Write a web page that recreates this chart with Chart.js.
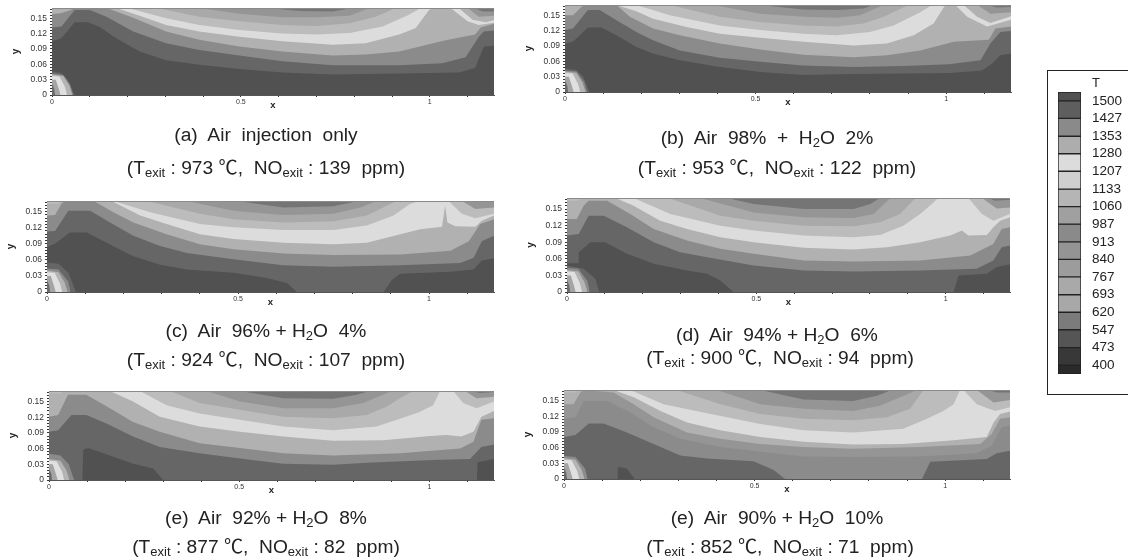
<!DOCTYPE html>
<html>
<head>
<meta charset="utf-8">
<script src="https://cdn.jsdelivr.net/npm/chart.js@4"></script>
<style>
html, body { margin: 0; padding: 0; background: #fff; }
#page { position: relative; width: 1128px; height: 560px; overflow: hidden; filter: blur(0.45px); font-family: "Liberation Sans", "Noto Sans CJK KR", sans-serif; color: #222; }
canvas { position: absolute; }
.cap { position: absolute; font-size: 19.2px; line-height: 24px; white-space: pre; transform: translate(-50%, -50%); }
.cap sub { font-size: 13px; line-height: 0; vertical-align: -3px; }
#frame { position: absolute; left: 1047px; top: 70px; width: 80px; height: 323px; border: 1px solid #222; box-sizing: content-box; }
#tname { position: absolute; left: 1092px; top: 75px; font-size: 13px; line-height: 15px; }
</style>
</head>
<body>
<div id="page">
  <div id="frame"></div>
  <div id="tname">T</div>
</div>
<script>
const xMax = 1.17, yMax = 0.17;
const xTicks = [0, 0.1, 0.2, 0.3, 0.4, 0.5, 0.6, 0.7, 0.8, 0.9, 1, 1.1];
const xLabelled = [0, 0.5, 1];
const yTicks = [0, 0.006, 0.012, 0.018, 0.024, 0.03, 0.036, 0.042, 0.048, 0.054, 0.06, 0.066, 0.072, 0.078, 0.084, 0.09, 0.096, 0.102, 0.108, 0.114, 0.12, 0.126, 0.132, 0.138, 0.144, 0.15, 0.156, 0.162, 0.168];
const yLabelled = [0, 0.03, 0.06, 0.09, 0.12, 0.15];

// legend levels
const levels = [1500, 1427, 1353, 1280, 1207, 1133, 1060, 987, 913, 840, 767, 693, 620, 547, 473, 400];
const levelTop = 1536.7, levelBottom = 363.3;
const levelTones = ['#505050', '#5e5e5e', '#8a8a8a', '#adadad', '#dcdcdc', '#cfcfcf', '#b5b5b5', '#a0a0a0', '#8a8a8a', '#949494', '#9c9c9c', '#a9a9a9', '#a8a8a8', '#7b7b7b', '#555555', '#383838', '#2a2a2a'];

const T1500 = '#515151', T1427 = '#666666', T1353 = '#8b8b8b', T1280 = '#b1b1b1', T1207 = '#dcdcdc', T1133 = '#bcbcbc', T1060 = '#a9a9a9', T987 = '#959595', T913 = '#868686', T840 = '#757575', TDark = '#444444';

// shared shapes
const baseLine = [[0, 0], [1.17, 0]];
const topEdge = [[0, 0.17], [1.17, 0.17]];
const cornerTop = [[0, 0.165], [0.03, 0.165], [0.04, 0.17]];
const core1 = [[0, 0.04], [0.03, 0.037], [0.046, 0.018], [0.054, 0]];
const core2 = [[0, 0.037], [0.02, 0.036], [0.034, 0.016], [0.04, 0]];
const core3 = [[0, 0.03], [0.01, 0.03], [0.018, 0.012], [0.023, 0]];
const core4 = [[0, 0.022], [0.006, 0.012], [0.008, 0]];

// (a) air only
const a1 = [[0, .105], [.025, .111], [.06, .142], [.095, .142], [.126, .133], [.17, .111], [.232, .085], [.302, .068], [.39, .059], [.496, .051], [.61, .044], [.743, .04], [.919, .042], [1.077, .044], [1.12, .053], [1.143, .095], [1.17, .096]];
const a2 = [[0, .132], [.025, .134], [.06, .166], [.1, .166], [.144, .153], [.215, .124], [.302, .101], [.39, .088], [.496, .077], [.61, .066], [.743, .058], [.919, .058], [1.033, .062], [1.095, .074], [1.13, .114], [1.143, .124], [1.17, .126]];
const a3 = [[0, .158], [.025, .16], [.05, .166], [.06, .17], [.144, .17], [.215, .151], [.302, .124], [.39, .108], [.496, .095], [.61, .085], [.743, .077], [.83, .079], [.919, .085], [1.042, .107], [1.12, .118], [1.135, .132], [1.17, .139]];
const a4 = [[.17, .17], [.232, .155], [.302, .137], [.39, .124], [.496, .114], [.61, .105], [.743, .098], [.83, .101], [.919, .118], [.963, .131], [.998, .166], [1.007, .17]];
const a5 = [[.2, .17], [.302, .15], [.39, .137], [.496, .127], [.61, .12], [.7, .118], [.788, .121], [.875, .134], [.945, .157], [.976, .17]];
const a6 = [[.277, .17], [.39, .153], [.496, .144], [.61, .137], [.7, .135], [.788, .14], [.857, .153], [.91, .17]];
const a7 = [[.39, .17], [.496, .159], [.61, .152], [.7, .152], [.788, .155], [.84, .17]];
const a8 = [[.57, .17], [.655, .164], [.743, .163], [.795, .17]];
const a9 = [[.6, .17], [.62, .168], [.78, .168], [.83, .17]];
const aR1 = [[1.055, .17], [1.1, .144], [1.13, .137], [1.17, .141]];
const aR2 = [[1.077, .17], [1.113, .147], [1.148, .142], [1.17, .146]];
const aR3 = [[1.1, .17], [1.13, .153], [1.17, .155]];
const aR4 = [[1.117, .17], [1.14, .163], [1.17, .163]];
const aHot1 = [[0, .046], [.025, .043], [.042, .03], [.06, 0]];
const aHot2 = [[0, .042], [.03, .039], [.048, .02], [.056, 0]];

// (b) 2%
const b1 = [[0, .095], [.021, .098], [.06, .126], [.095, .126], [.135, .111], [.187, .088], [.231, .075], [.301, .062], [.406, .049], [.512, .039], [.625, .033], [.757, .035], [.888, .036], [1.011, .037], [1.094, .042], [1.12, .055], [1.142, .072], [1.17, .075]];
const b2 = [[0, .121], [.021, .124], [.06, .16], [.091, .16], [.135, .14], [.187, .117], [.231, .101], [.301, .081], [.406, .067], [.512, .059], [.625, .052], [.757, .049], [.888, .051], [1.007, .054], [1.09, .062], [1.116, .095], [1.142, .117], [1.17, .119]];
const b3 = [[0, .15], [.021, .15], [.043, .166], [.052, .17], [.135, .17], [.17, .147], [.231, .124], [.301, .111], [.406, .095], [.512, .083], [.625, .073], [.757, .068], [.844, .072], [.932, .081], [1.02, .098], [1.112, .102], [1.129, .124], [1.17, .128]];
const b4 = [[.135, .17], [.187, .158], [.231, .143], [.319, .127], [.406, .114], [.512, .106], [.625, .098], [.757, .091], [.844, .095], [.915, .111], [.967, .134], [.989, .16], [.998, .17]];
const b5 = [[.187, .17], [.275, .15], [.406, .13], [.512, .121], [.625, .114], [.713, .111], [.8, .117], [.862, .13], [.932, .156], [.963, .17]];
const b6 = [[.275, .17], [.406, .147], [.512, .137], [.625, .13], [.713, .128], [.783, .134], [.836, .147], [.901, .17]];
const b7 = [[.389, .17], [.512, .153], [.625, .147], [.713, .145], [.774, .15], [.836, .17]];
const b8 = [[.512, .17], [.625, .161], [.713, .16], [.783, .163], [.81, .17]];
const b9 = [[.55, .17], [.6, .168], [.84, .168], [.85, .17]];
const bR1 = [[1.024, .17], [1.055, .147], [1.107, .128], [1.17, .141]];
const bR2 = [[1.046, .17], [1.081, .147], [1.116, .135], [1.17, .148]];
const bR3 = [[1.081, .17], [1.116, .153], [1.17, .156]];
const bR4 = [[1.107, .17], [1.133, .165], [1.17, .166]];
const bHot1 = [[0, .046], [.03, .043], [.048, .03], [.064, 0]];
const bHot2 = [[0, .042], [.03, .04], [.05, .02], [.058, 0]];

// (c) 4%
const c1 = [[0, .084], [.021, .09], [.06, .111], [.104, .111], [.156, .092], [.226, .067], [.296, .051], [.366, .042], [.488, .036], [.575, .026], [.628, .017], [.654, 0], [.881, 0], [.903, .023], [.925, .034], [1.055, .038], [1.117, .042], [1.138, .059], [1.17, .063]];
const c2 = [[0, .113], [.021, .114], [.056, .152], [.113, .152], [.165, .13], [.226, .105], [.296, .086], [.366, .073], [.488, .061], [.619, .05], [.75, .047], [.925, .05], [1.082, .054], [1.117, .064], [1.138, .095], [1.17, .105]];
const c3 = [[0, .143], [.021, .144], [.038, .165], [.047, .17], [.122, .17], [.174, .149], [.226, .13], [.313, .108], [.4, .089], [.488, .08], [.619, .072], [.75, .069], [.925, .07], [1.056, .077], [1.104, .095], [1.134, .127], [1.17, .136]];
const c4 = [[.113, .17], [.174, .168], [.244, .143], [.313, .127], [.4, .108], [.488, .099], [.619, .092], [.75, .089], [.837, .092], [.925, .108], [.977, .117], [1.034, .122], [1.042, .161], [1.048, .13], [1.069, .123], [1.121, .122], [1.138, .133], [1.17, .143]];
const c5 = [[.174, .17], [.27, .149], [.4, .127], [.488, .121], [.619, .116], [.75, .116], [.837, .124], [.907, .143], [.951, .165], [.977, .17]];
const c6 = [[.261, .17], [.4, .146], [.488, .136], [.619, .13], [.75, .132], [.837, .143], [.889, .161], [.916, .17]];
const c7 = [[.366, .17], [.488, .152], [.619, .144], [.75, .146], [.82, .158], [.863, .17]];
const c8 = [[.497, .17], [.619, .158], [.75, .16], [.802, .168], [.815, .17]];
const c9 = [[.51, .17], [.55, .168], [.82, .168], [.84, .17]];
const cR1 = [[1.051, .17], [1.086, .146], [1.121, .138], [1.17, .146]];
const cR2 = [[1.086, .17], [1.121, .155], [1.17, .158]];
const cR3 = [[1.117, .17], [1.134, .168], [1.17, .168]];
const cHot1 = [[0, .055], [.03, .053], [.056, .036], [.076, 0]];
const cHot2 = [[0, .044], [.03, .042], [.055, .02], [.062, 0]];

// (d) 6%
const d1 = [[0, .052], [.03, .052], [.031, .072], [.062, .09], [.101, .09], [.158, .069], [.229, .051], [.317, .039], [.37, .033], [.405, .021], [.44, 0], [1.021, 0], [1.034, .03], [1.109, .033], [1.135, .045], [1.17, .05]];
const d2 = [[0, .102], [.031, .105], [.057, .138], [.097, .138], [.158, .117], [.229, .09], [.299, .072], [.37, .063], [.493, .048], [.625, .039], [.757, .037], [.933, .039], [1.082, .042], [1.126, .057], [1.148, .081], [1.17, .084]];
const d3 = [[0, .132], [.026, .132], [.044, .156], [.057, .165], [.106, .165], [.167, .141], [.229, .114], [.317, .093], [.405, .078], [.493, .069], [.625, .057], [.757, .055], [.933, .057], [1.065, .066], [1.126, .087], [1.148, .114], [1.17, .117]];
const d4 = [[.128, .17], [.176, .156], [.246, .129], [.317, .114], [.405, .099], [.493, .09], [.625, .08], [.757, .077], [.845, .081], [.933, .09], [1.012, .102], [1.043, .111], [1.06, .102], [1.109, .103], [1.126, .117], [1.144, .129], [1.17, .135]];
const d5 = [[.176, .17], [.273, .141], [.405, .12], [.493, .111], [.625, .102], [.757, .099], [.827, .103], [.888, .12], [.933, .141], [.968, .162], [.98, .17]];
const d6 = [[.268, .17], [.405, .138], [.493, .129], [.625, .12], [.757, .119], [.827, .126], [.88, .141], [.92, .17]];
const d7 = [[.352, .17], [.493, .144], [.625, .135], [.757, .134], [.81, .141], [.854, .17]];
const d8 = [[.422, .17], [.493, .159], [.625, .15], [.757, .15], [.801, .159], [.827, .17]];
const d9 = [[.59, .17], [.7, .168], [.82, .168], [.83, .17]];
const dR1 = [[1.06, .17], [1.096, .141], [1.126, .129], [1.17, .141]];
const dR2 = [[1.096, .17], [1.135, .151], [1.17, .153]];
const dR3 = [[1.113, .17], [1.131, .165], [1.17, .167]];
const dHot1 = [[0, .048], [.044, .042], [.075, .024], [.085, 0]];
const dHot2 = [[0, .044], [.03, .042], [.054, .02], [.06, 0]];

// (e) 8%
const e1 = [[0, 0], [.088, 0], [.09, .058], [.103, .061], [.16, .047], [.221, .031], [.274, .022], [.3, 0], [1.125, 0], [1.127, .034], [1.17, .04]];
const e2 = [[0, .092], [.024, .095], [.059, .124], [.098, .124], [.151, .108], [.221, .083], [.291, .063], [.396, .051], [.502, .041], [.616, .031], [.747, .029], [.835, .033], [1.01, .038], [1.107, .04], [1.137, .063], [1.17, .068]];
const e3 = [[0, .121], [.024, .124], [.05, .163], [.098, .163], [.16, .137], [.221, .111], [.291, .092], [.396, .07], [.502, .061], [.616, .051], [.747, .047], [.923, .051], [1.081, .06], [1.116, .073], [1.137, .115], [1.17, .118]];
const e4 = [[.16, .17], [.221, .15], [.291, .121], [.396, .102], [.502, .092], [.616, .083], [.747, .075], [.879, .076], [1.002, .084], [1.045, .086], [1.084, .083], [1.116, .092], [1.137, .121], [1.17, .132]];
const e5 = [[.239, .17], [.309, .143], [.396, .127], [.502, .115], [.616, .102], [.747, .095], [.861, .102], [.923, .117], [.974, .13], [1.01, .143], [1.028, .17]];
const e6 = [[.318, .17], [.396, .147], [.502, .134], [.616, .121], [.747, .118], [.835, .124], [.887, .14], [.923, .156], [.957, .17]];
const e7 = [[.414, .17], [.502, .15], [.616, .137], [.747, .137], [.826, .147], [.879, .163], [.9, .17]];
const e8 = [[.502, .17], [.616, .156], [.747, .155], [.809, .163], [.844, .17]];
const e9 = [[.58, .17], [.6, .168], [.82, .168], [.84, .17]];
const eR1 = [[1.063, .17], [1.089, .147], [1.124, .137], [1.17, .15]];
const eR2 = [[1.094, .17], [1.124, .156], [1.17, .159]];
const eR3 = [[1.111, .17], [1.133, .166], [1.17, .168]];
const eHot1 = [[0, .05], [.03, .047], [.052, .03], [.066, 0]];

// (f) 10%
const f1 = [[0, 0], [.14, 0], [.141, .023], [.165, .02], [.185, 0], [1.17, 0]];
const f2 = [[0, .08], [.03, .084], [.065, .106], [.104, .106], [.165, .089], [.235, .067], [.305, .045], [.375, .039], [.497, .034], [.55, .017], [.58, 0], [.939, 0], [.961, .033], [1.109, .038], [1.135, .049], [1.17, .054]];
const f3 = [[0, .115], [.03, .118], [.052, .149], [.113, .149], [.174, .127], [.235, .099], [.305, .077], [.41, .061], [.515, .052], [.628, .043], [.759, .042], [.934, .043], [1.083, .049], [1.122, .064], [1.148, .099], [1.17, .102]];
const f4 = [[0, .143], [.025, .143], [.043, .165], [.052, .17], [.13, .165], [.183, .143], [.235, .118], [.323, .089], [.41, .077], [.515, .067], [.628, .061], [.759, .058], [.934, .061], [1.092, .067], [1.122, .086], [1.144, .115], [1.17, .118]];
const f5 = [[.13, .17], [.183, .156], [.253, .13], [.323, .108], [.41, .093], [.515, .08], [.628, .071], [.759, .066], [.89, .067], [1.022, .074], [1.109, .08], [1.127, .108], [1.144, .124], [1.17, .129]];
const f6 = [[.174, .17], [.261, .143], [.366, .127], [.515, .105], [.628, .093], [.759, .089], [.89, .096], [.952, .115], [.995, .13], [1.022, .143], [1.039, .17]];
const f7 = [[.296, .17], [.41, .143], [.515, .124], [.628, .115], [.759, .112], [.847, .118], [.908, .134], [.943, .17]];
const f8 = [[.401, .17], [.515, .143], [.628, .134], [.759, .13], [.829, .14], [.891, .159], [.926, .17]];
const f9 = [[.515, .17], [.628, .152], [.759, .149], [.821, .159], [.86, .17]];
const f10 = [[.65, .17], [.68, .168], [.83, .168], [.84, .17]];
const fR1 = [[1.048, .17], [1.083, .143], [1.131, .13], [1.17, .137]];
const fR2 = [[1.083, .17], [1.127, .146], [1.17, .151]];
const fR3 = [[1.113, .17], [1.135, .165], [1.17, .165]];
const fHot1 = [[0, .054], [.03, .05], [.06, .03], [.076, 0]];
const fHot2 = [[0, .044], [.03, .042], [.055, .02], [.062, 0]];

const coreLayers = [[core1, '#b4b4b4', 'origin'], [core2, '#e0e0e0', 'origin'], [core3, '#a4a4a4', 'origin'], [core4, '#6a6a6a', 'origin']];

const panels = [
  { box: [52, 8, 494, 95], layers: [[baseLine, T1500], [a1, T1427], [a2, T1353], [a3, T1280], [a4, T1207], [a5, T1133], [a6, T1060], [a7, T987], [a8, T840], [a9, TDark], [aR1, T1207], [aR2, T1280], [aR3, T987], [aR4, T840], [aHot1, T1427, 'origin'], [aHot2, T1353, 'origin']] },
  { box: [565, 5, 1011, 92], layers: [[baseLine, T1500], [b1, T1427], [b2, T1353], [b3, T1280], [b4, T1207], [b5, T1133], [b6, T1060], [b7, T987], [b8, T840], [b9, TDark], [bR1, T1207], [bR2, T1280], [bR3, T987], [bR4, T840], [bHot1, T1427, 'origin'], [bHot2, T1353, 'origin']] },
  { box: [47, 201, 494, 292], layers: [[baseLine, T1500], [c1, T1427], [c2, T1353], [c3, T1280], [c4, T1207], [c5, T1133], [c6, T1060], [c7, T987], [c8, T840], [c9, TDark], [cornerTop, T1133], [cR1, T1133], [cR2, T987], [cR3, T840], [cHot1, T1427, 'origin'], [cHot2, T1353, 'origin']] },
  { box: [567, 198, 1010, 292], layers: [[baseLine, T1500], [d1, T1427], [d2, T1353], [d3, T1280], [d4, T1207], [d5, T1133], [d6, T1060], [d7, T987], [d8, T840], [d9, TDark], [cornerTop, T1133], [dR1, T1133], [dR2, T987], [dR3, T840], [dHot1, T1427, 'origin'], [dHot2, T1353, 'origin']] },
  { box: [49, 391, 494, 480], layers: [[baseLine, T1500], [e1, T1427], [e2, T1353], [e3, T1280], [e4, T1207], [e5, T1133], [e6, T1060], [e7, T987], [e8, T840], [e9, TDark], [cornerTop, T1133], [eR1, T1133], [eR2, T987], [eR3, T840], [eHot1, T1353, 'origin']] },
  { box: [564, 390, 1010, 479], layers: [[baseLine, T1500], [f1, T1427], [f2, T1353], [f3, T987], [f4, T1280], [f5, T1207], [f6, T1133], [f7, T1060], [f8, T987], [f9, T840], [f10, TDark], [cornerTop, T1133], [fR1, T1133], [fR2, T987], [fR3, T840], [fHot1, T1427, 'origin'], [fHot2, T1353, 'origin']] }
];

const captions = [
  { cx: 266, cy: 135, html: '(a)  Air  injection  only' },
  { cx: 266, cy: 168, html: '(T<sub>exit</sub> : 973 ℃,  NO<sub>exit</sub> : 139  ppm)' },
  { cx: 767, cy: 138, html: '(b)  Air  98%  +  H<sub>2</sub>O  2%' },
  { cx: 777, cy: 168, html: '(T<sub>exit</sub> : 953 ℃,  NO<sub>exit</sub> : 122  ppm)' },
  { cx: 266, cy: 331, html: '(c)  Air  96% + H<sub>2</sub>O  4%' },
  { cx: 266, cy: 360, html: '(T<sub>exit</sub> : 924 ℃,  NO<sub>exit</sub> : 107  ppm)' },
  { cx: 777, cy: 335, html: '(d)  Air  94% + H<sub>2</sub>O  6%' },
  { cx: 780, cy: 358, html: '(T<sub>exit</sub> : 900 ℃,  NO<sub>exit</sub> : 94  ppm)' },
  { cx: 266, cy: 518, html: '(e)  Air  92% + H<sub>2</sub>O  8%' },
  { cx: 266, cy: 547, html: '(T<sub>exit</sub> : 877 ℃,  NO<sub>exit</sub> : 82  ppm)' },
  { cx: 777, cy: 518, html: '(e)  Air  90% + H<sub>2</sub>O  10%' },
  { cx: 780, cy: 547, html: '(T<sub>exit</sub> : 852 ℃,  NO<sub>exit</sub> : 71  ppm)' }
];

const page = document.getElementById('page');
const axisFont = { family: 'Liberation Sans', size: 8.5 };

function addCanvas(left, top, width, height) {
  const c = document.createElement('canvas');
  c.width = width;
  c.height = height;
  c.style.left = left + 'px';
  c.style.top = top + 'px';
  c.style.width = width + 'px';
  c.style.height = height + 'px';
  page.appendChild(c);
  return c;
}

function drawPanel(p) {
  const [l, t, r, b] = p.box;
  const padL = 42, padT = 9, padR = 6, padB = 16;
  const canvas = addCanvas(l - padL, t - padT, r - l + padL + padR, b - t + padT + padB);
  const all = p.layers.concat(coreLayers);
  const datasets = all.map(([line, tone, side]) => ({
    data: line.map(([x, y]) => ({ x, y })),
    backgroundColor: tone,
    borderWidth: 0,
    pointRadius: 0,
    tension: 0,
    fill: side || 'end'
  }));
  datasets.push({
    data: topEdge.map(([x, y]) => ({ x, y })),
    borderColor: '#8a8a8a',
    borderWidth: 2,
    pointRadius: 0,
    fill: false
  });
  // first dataset is painted last by Chart.js, so flip
  datasets.reverse();
  new Chart(canvas.getContext('2d'), {
    type: 'line',
    data: { datasets },
    options: {
      responsive: false,
      animation: false,
      layout: { autoPadding: false, padding: { top: padT, right: padR } },
      plugins: { legend: { display: false }, tooltip: { enabled: false } },
      scales: {
        x: {
          type: 'linear',
          min: 0,
          max: xMax,
          afterBuildTicks: a => { a.ticks = xTicks.map(value => ({ value })); },
          afterFit: a => { a.height = padB; },
          grid: { drawOnChartArea: false, tickLength: 2, tickColor: '#333', offset: false },
          border: { color: '#555' },
          ticks: {
            autoSkip: false,
            maxRotation: 0,
            padding: 1,
            color: '#333',
            font: { family: 'Liberation Sans', size: 7 },
            callback: v => (xLabelled.includes(v) ? String(v) : '')
          },
          title: { display: true, text: 'x', color: '#222', padding: 0, font: { family: 'Liberation Sans', size: 9.5, weight: 'bold' } }
        },
        y: {
          type: 'linear',
          min: 0,
          max: yMax,
          afterBuildTicks: a => { a.ticks = yTicks.map(value => ({ value })); },
          afterFit: a => { a.width = padL; },
          grid: { drawOnChartArea: false, tickLength: 2, tickColor: '#333' },
          border: { color: '#555' },
          ticks: {
            autoSkip: false,
            padding: 3,
            color: '#333',
            font: axisFont,
            callback: v => (yLabelled.includes(v) ? String(v) : '')
          },
          title: { display: true, text: 'y', color: '#222', padding: 0, font: { family: 'Liberation Sans', size: 10, weight: 'bold' } }
        }
      }
    }
  });
}

function drawLegend() {
  // tick padding also eats into the plot height, so the canvas is taller than the bar
  const canvas = addCanvas(1050, 73, 78, 320);
  const edges = [levelTop].concat(levels, [levelBottom]);
  const datasets = levelTones.map((tone, i) => ({
    data: [[edges[i + 1], edges[i]]],
    backgroundColor: tone,
    borderColor: '#222',
    borderWidth: 1,
    borderSkipped: false,
    grouped: false,
    barPercentage: 1,
    categoryPercentage: 1
  }));
  new Chart(canvas.getContext('2d'), {
    type: 'bar',
    data: { labels: ['T'], datasets },
    options: {
      responsive: false,
      animation: false,
      layout: { autoPadding: false, padding: { left: 8, top: 19, bottom: 19 } },
      plugins: { legend: { display: false }, tooltip: { enabled: false } },
      scales: {
        x: { display: false },
        y: {
          position: 'right',
          min: levelBottom,
          max: levelTop,
          afterBuildTicks: a => { a.ticks = levels.map(value => ({ value })); },
          afterFit: a => { a.width = 47; },
          grid: { display: false, drawTicks: false },
          border: { display: false },
          ticks: { autoSkip: false, padding: 11, color: '#222', font: { family: 'Liberation Sans', size: 13.5 }, callback: v => String(v) }
        }
      }
    }
  });
}

panels.forEach(drawPanel);
drawLegend();

captions.forEach(c => {
  const d = document.createElement('div');
  d.className = 'cap';
  d.style.left = c.cx + 'px';
  d.style.top = c.cy + 'px';
  d.innerHTML = c.html;
  page.appendChild(d);
});
</script>
</body>
</html>
